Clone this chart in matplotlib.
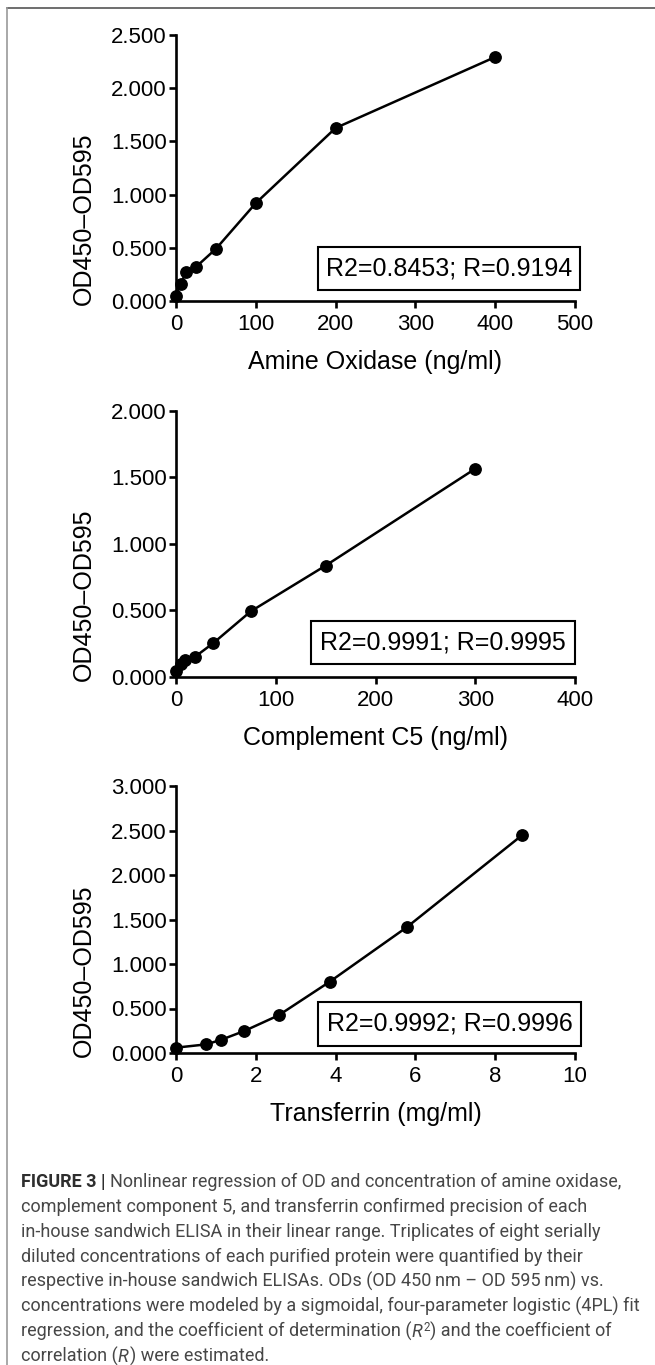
import matplotlib
matplotlib.use("Agg")
import matplotlib.pyplot as plt
from matplotlib.patches import Rectangle
from matplotlib.lines import Line2D
from matplotlib.ticker import FormatStrFormatter

# ---------------- data ----------------
amine_x = [0, 6.25, 12.5, 25, 50, 100, 200, 400]
amine_y = [0.050, 0.163, 0.273, 0.320, 0.490, 0.920, 1.626, 2.293]

c5_x = [0, 4.6875, 9.375, 18.75, 37.5, 75, 150, 300]
c5_y = [0.045, 0.095, 0.125, 0.150, 0.255, 0.493, 0.836, 1.563]

tf_x = [0, 0.76, 1.14, 1.71, 2.57, 3.85, 5.78, 8.67]
tf_y = [0.060, 0.097, 0.150, 0.247, 0.423, 0.800, 1.412, 2.446]

xlabels = ["Amine Oxidase (ng/ml)", "Complement C5 (ng/ml)", "Transferrin (mg/ml)"]
ylabel = "OD450\u2013OD595"
annots = ["R2=0.8453; R=0.9194", "R2=0.9991; R=0.9995", "R2=0.9992; R=0.9996"]
xlims = [(0, 500), (0, 400), (0, 10)]
xticks = [[0, 100, 200, 300, 400, 500], [0, 100, 200, 300, 400], [0, 2, 4, 6, 8, 10]]
ylims = [(0, 2.5), (0, 2.0), (0, 3.0)]
yticks = [[0, 0.5, 1.0, 1.5, 2.0, 2.5], [0, 0.5, 1.0, 1.5, 2.0], [0, 0.5, 1.0, 1.5, 2.0, 2.5, 3.0]]

caption_lines = [
    [("FIGURE 3 | ", "bold"), ("Nonlinear regression of OD and concentration of amine oxidase,", "reg")],
    [("complement component 5, and transferrin confirmed precision of each", "reg")],
    [("in-house sandwich ELISA in their linear range. Triplicates of eight serially", "reg")],
    [("diluted concentrations of each purified protein were quantified by their", "reg")],
    [("respective in-house sandwich ELISAs. ODs (OD 450\u2009nm \u2013 OD 595\u2009nm) vs.", "reg")],
    [("concentrations were modeled by a sigmoidal, four-parameter logistic (4PL) fit", "reg")],
    [("regression, and the coefficient of determination (", "reg"), ("R", "ital"), ("2", "sup"),
     (") and the coefficient of", "reg")],
    [("correlation (", "reg"), ("R", "ital"), (") were estimated.", "reg")],
]

# ---------------- layout ----------------
W, H = 655, 1365
plt.rcParams['font.family'] = ['Liberation Sans', 'DejaVu Sans']
fig = plt.figure(figsize=(W / 100, H / 100), dpi=100)
fig.patch.set_facecolor('white')

def fx(px):
    return px / W

def fy(py):
    return 1 - py / H

ax_left, ax_right = 176, 575
ax_tb = [(35, 301), (410.5, 677), (786, 1053)]
boxes = [(318, 247, 580, 290), (311, 621, 575, 664), (318, 1002, 581, 1046)]
series = [(amine_x, amine_y), (c5_x, c5_y), (tf_x, tf_y)]

for i in range(3):
    top, bot = ax_tb[i]
    ax = fig.add_axes([fx(ax_left), fy(bot), (ax_right - ax_left) / W, (bot - top) / H])
    xs, ys = series[i]
    ax.plot(xs, ys, color='black', lw=1.8, marker='o', ms=8.2, mfc='black', mec='black',
            clip_on=False, zorder=5)
    ax.set_xlim(*xlims[i])
    ax.set_ylim(*ylims[i])
    ax.set_xticks(xticks[i])
    ax.set_yticks(yticks[i])
    ax.yaxis.set_major_formatter(FormatStrFormatter('%.3f'))
    for s in ['top', 'right']:
        ax.spines[s].set_visible(False)
    for s in ['left', 'bottom']:
        ax.spines[s].set_linewidth(1.9)
        ax.spines[s].set_capstyle('projecting')
    ax.tick_params(axis='both', which='major', length=5.2, width=1.9, labelsize=16,
                   direction='out', color='black')
    ax.tick_params(axis='x', pad=4.5)
    ax.tick_params(axis='y', pad=1.5)
    ax.patch.set_alpha(0)

    # axis labels
    fig.text(fx(84), fy(bot - 82), ylabel, rotation=90, ha='center', va='center',
             fontsize=18, color='black')
    fig.text(fx((ax_left + ax_right) / 2), fy(bot + 68), xlabels[i], ha='center',
             va='baseline', fontsize=18, color='black')

    # annotation box
    x0, y0, x1, y1 = boxes[i]
    fig.add_artist(Rectangle((fx(x0), fy(y1)), (x1 - x0) / W, (y1 - y0) / H,
                             transform=fig.transFigure, fill=False, ec='black', lw=1.5,
                             zorder=6))
    fig.text(fx((x0 + x1) / 2), fy((y0 + y1) / 2), annots[i], ha='center',
             va='center', fontsize=18, color='black')

# frame lines
fig.add_artist(Line2D([fx(7), fx(655)], [fy(8), fy(8)], transform=fig.transFigure,
                      color='#555555', lw=1.2))
fig.add_artist(Line2D([fx(7), fx(7)], [fy(8), fy(1365)], transform=fig.transFigure,
                      color='#9a9a9a', lw=1.2))

# caption
renderer = fig.canvas.get_renderer()
cap_font = ['Roboto', 'DejaVu Sans']
cap_x0 = 21
base0 = 1187
target_w = 598

def draw_line(segs, ybase, size, draw=True):
    xpix = cap_x0
    arts = []
    for txt, style in segs:
        kw = dict(fontsize=size, family=cap_font, color='#474747', va='baseline',
                  ha='left', weight='normal')
        yy = ybase
        if style == 'bold':
            kw.update(weight='bold', color='#2e2e2e')
        elif style == 'ital':
            kw.update(style='italic')
        elif style == 'sup':
            kw.update(fontsize=size * 0.65)
            yy = ybase - 6
        t = fig.text(fx(xpix), fy(yy), txt, **kw)
        bb = t.get_window_extent(renderer=renderer)
        xpix += bb.width + (1 if style == 'ital' else 0)
        arts.append(t)
    if not draw:
        for a in arts:
            a.remove()
    return xpix - cap_x0

trial = 12.0
w0 = draw_line(caption_lines[0], base0, trial, draw=False)
cap_size = trial * target_w / w0

for li, segs in enumerate(caption_lines):
    draw_line(segs, base0 + 25 * li, cap_size)

fig.savefig('out.png', dpi=100, facecolor='white')
